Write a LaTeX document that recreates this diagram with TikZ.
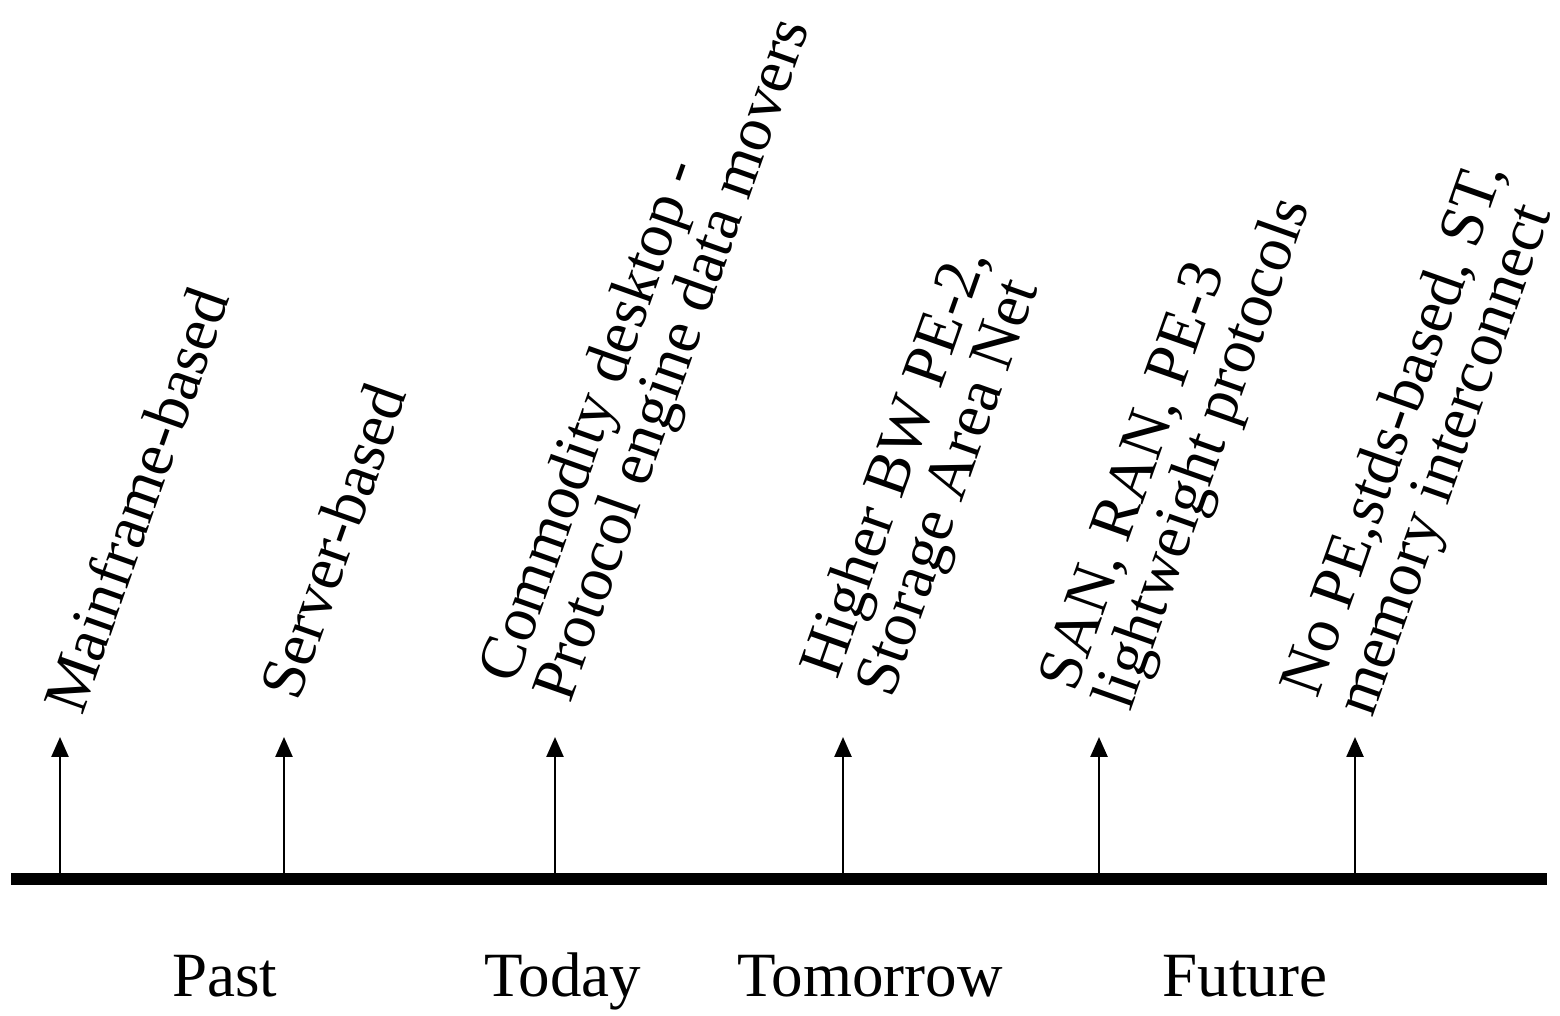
\documentclass[tikz,border=0pt]{standalone}
\usepackage{fontspec}
\setmainfont{Liberation Serif}
\usetikzlibrary{arrows.meta}
\begin{document}
\begin{tikzpicture}[x=1pt,y=1pt,
  lbl/.style={anchor=base west, inner sep=0pt, font=\fontsize{63}{63}\selectfont, rotate=70.5},
  era/.style={anchor=base, inner sep=0pt, font=\fontsize{63}{63}\selectfont},
  markarrow/.style={line width=2.5pt, -{Triangle[length=20pt,width=17pt]}},
  axisline/.style={line width=12pt}]
\useasboundingbox (0,0) rectangle (1560,1016);

% time axis
\coordinate (axisL) at (11,136.5);
\coordinate (axisR) at (1547,136.5);
\draw[axisline] (axisL) -- (axisR);

% milestone arrows
\foreach \n/\x in {a/60, b/284, c/555, d/843, e/1099, f/1355} {
  \coordinate (\n0) at (\x,136.5);
  \coordinate (\n1) at (\x,279);
  \draw[markarrow] (\n0) -- (\n1);
}

% milestone labels (last line anchored, first line stacked above it)
\def\gap{58}
\node[lbl] (la) at (82,299) {Mainframe-based};
\node[lbl] (lb) at (298,313) {Server-based};
\node[lbl] (lc2) at (570,311) {Protocol engine data movers};
\node[lbl] (lc1) at ([shift={(160.5:\gap)}]lc2.base west) {Commodity desktop -};
\node[lbl] (ld2) at (892,316) {Storage Area Net};
\node[lbl] (ld1) at ([shift={(160.5:\gap)}]ld2.base west) {Higher BW PE-2,};
\node[lbl] (le2) at (1130,303) {lightweight protocols};
\node[lbl] (le1) at ([shift={(160.5:\gap)}]le2.base west) {SAN, RAN, PE-3};
\node[lbl] (lf2) at (1372,297) {memory interconnect};
\node[lbl] (lf1) at ([shift={(160.5:\gap)}]lf2.base west) {No PE,stds-based, ST,};

% eras
\node[era] (past) at (225,19) {Past};
\node[era] (today) at (563,19) {Today};
\node[era] (tomorrow) at (870,19) {Tomorrow};
\node[era] (future) at (1245,19) {Future};
\end{tikzpicture}
\end{document}
